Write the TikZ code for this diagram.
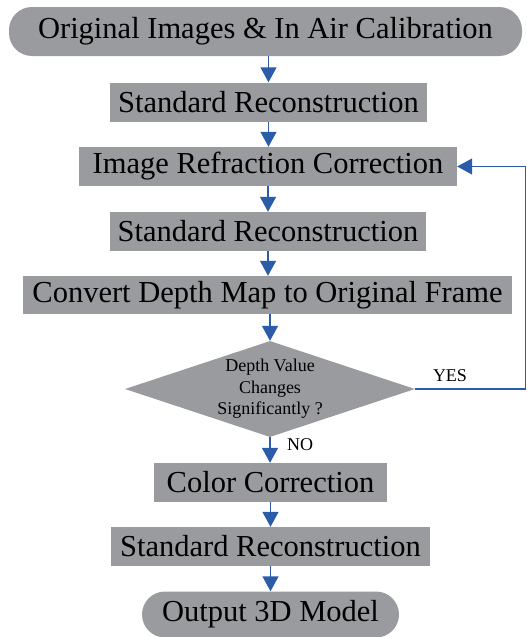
\documentclass[tikz,border=0pt]{standalone}
\usepackage{fontspec}
\setmainfont{Liberation Serif}
\newfontfamily\tnr{Liberation Serif}
\usetikzlibrary{shapes.geometric,arrows.meta}
\definecolor{boxgray}{HTML}{9A9B9F}
\definecolor{arrowblue}{HTML}{2A5CAA}
\begin{document}
\begin{tikzpicture}[x=1pt,y=-1pt,
  box/.style={fill=boxgray, inner sep=0pt, font=\tnr\fontsize{30.5}{36}\selectfont},
  pill/.style={box, rounded corners=23pt},
  flow/.style={draw=arrowblue, line width=1.4pt, -{Triangle[length=15pt,width=16pt]}},
  thinline/.style={draw=arrowblue, line width=1.1pt},
  small/.style={font=\tnr\fontsize{18}{21.5}\selectfont}]
\useasboundingbox (0,0) rectangle (527,637);
\node[pill, minimum width=513pt, minimum height=49pt] (start) at (265.5,31.5) {Original Images \& In Air Calibration};
\node[box, minimum width=317pt, minimum height=39pt] (sr1) at (268.5,102) {Standard Reconstruction};
\node[box, minimum width=378pt, minimum height=39pt] (irc) at (268,166.5) {Image Refraction Correction};
\node[box, minimum width=316pt, minimum height=39pt] (sr2) at (268,231.5) {Standard Reconstruction};
\node[box, minimum width=489pt, minimum height=38pt] (cdm) at (267.5,295) {Convert Depth Map to Original Frame};
\node[shape=diamond, fill=boxgray, inner sep=0pt, aspect=3.02, minimum width=290pt, minimum height=96pt, small, align=center] (dia) at (270,389) {Depth Value\\Changes\\Significantly ?};
\node[box, minimum width=233pt, minimum height=39pt] (cc) at (270.5,482.5) {Color Correction};
\node[box, minimum width=319pt, minimum height=39pt] (sr3) at (270.5,546.5) {Standard Reconstruction};
\node[pill, minimum width=257pt, minimum height=46pt] (out) at (270.5,614.5) {Output 3D Model};
\node[small] (yes) at (450,376) {YES};
\node[small] (no) at (300,445) {NO};
\coordinate (fb) at (525.5,389);
\draw[flow] (sr1.north |- start.south) -- (sr1.north);
\draw[flow] (sr1.south) -- (sr1.south |- irc.north);
\draw[flow] (irc.south) -- (irc.south |- sr2.north);
\draw[flow] (sr2.south) -- (sr2.south |- cdm.north);
\draw[flow] (dia.north |- cdm.south) -- (dia.north);
\draw[flow] (dia.south) -- (dia.south |- cc.north);
\draw[flow] (cc.south) -- (cc.south |- sr3.north);
\draw[flow] (sr3.south) -- (sr3.south |- out.north);
\draw[thinline] (dia.east) -- (fb);
\draw[flow, line width=1.1pt] (fb) |- (irc.east);
\end{tikzpicture}
\end{document}
